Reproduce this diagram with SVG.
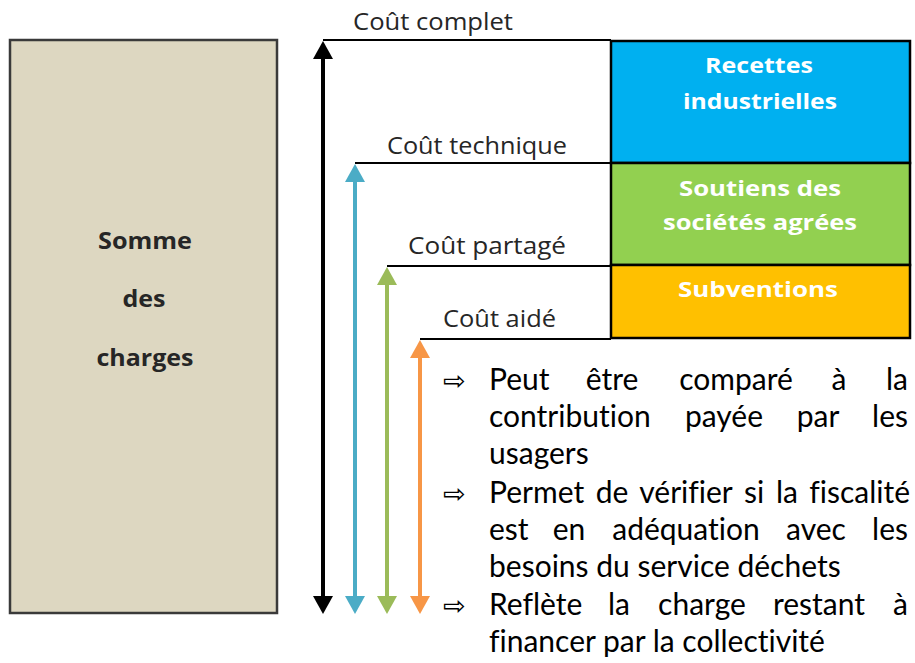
<svg xmlns="http://www.w3.org/2000/svg" width="915" height="663" viewBox="0 0 915 663">
<defs>
<style>
.lbl{font-family:"Open Sans","Liberation Sans",sans-serif;font-size:23px;fill:#262626}
.box{stroke:#000;stroke-width:2.5}
.bt{font-family:"Open Sans","Liberation Sans",sans-serif;font-size:22px;font-weight:bold;fill:#fff;text-anchor:middle}
.lt{font-family:"Open Sans","Liberation Sans",sans-serif;font-size:23px;font-weight:bold;fill:#262626;text-anchor:middle}
.tx{font-family:Lato,"Liberation Sans",sans-serif;font-size:30px;fill:#000;font-variant-ligatures:none}
.m{text-anchor:middle}
.e{text-anchor:end}
.bul{font-family:"DejaVu Sans",sans-serif;font-size:27px;fill:#000}
.hl{stroke:#000;stroke-width:2;fill:none}
.ar{stroke-width:4;fill:none}
</style>
<marker id="mk" viewBox="0 0 18 20" markerWidth="18" markerHeight="20" refX="1" refY="10" markerUnits="userSpaceOnUse" orient="auto-start-reverse"><path d="M0,0 L18,10 L0,20 z" fill="#000"/></marker>
<marker id="mb" viewBox="0 0 18 20" markerWidth="18" markerHeight="20" refX="1" refY="10" markerUnits="userSpaceOnUse" orient="auto-start-reverse"><path d="M0,0 L18,10 L0,20 z" fill="#4BACC6"/></marker>
<marker id="mg" viewBox="0 0 18 20" markerWidth="18" markerHeight="20" refX="1" refY="10" markerUnits="userSpaceOnUse" orient="auto-start-reverse"><path d="M0,0 L18,10 L0,20 z" fill="#9BBB59"/></marker>
<marker id="mo" viewBox="0 0 18 20" markerWidth="18" markerHeight="20" refX="1" refY="10" markerUnits="userSpaceOnUse" orient="auto-start-reverse"><path d="M0,0 L18,10 L0,20 z" fill="#F79646"/></marker>
</defs>
<rect width="915" height="663" fill="#fff"/>

<g id="somme">
<rect x="10" y="40" width="267" height="573" fill="#DDD7C1" stroke="#3a3a3a" stroke-width="2.5"/>
<text class="lt" x="145" y="249" textLength="94" lengthAdjust="spacingAndGlyphs">Somme</text>
<text class="lt" x="144" y="307" textLength="43" lengthAdjust="spacingAndGlyphs">des</text>
<text class="lt" x="145" y="366" textLength="97" lengthAdjust="spacingAndGlyphs">charges</text>
</g>

<g id="recettes">
<rect class="box" x="611" y="41" width="299" height="122" fill="#00B0F0"/>
<text class="bt" x="759" y="73" textLength="108" lengthAdjust="spacingAndGlyphs">Recettes</text>
<text class="bt" x="760" y="109" textLength="154" lengthAdjust="spacingAndGlyphs">industrielles</text>
</g>
<g id="soutiens">
<rect class="box" x="611" y="163" width="299" height="102" fill="#92D050"/>
<text class="bt" x="760" y="196" textLength="162" lengthAdjust="spacingAndGlyphs">Soutiens des</text>
<text class="bt" x="760" y="230" textLength="194" lengthAdjust="spacingAndGlyphs">sociétés agrées</text>
</g>
<g id="subventions">
<rect class="box" x="611" y="265" width="299" height="73" fill="#FFC000"/>
<text class="bt" x="758" y="297" textLength="160" lengthAdjust="spacingAndGlyphs">Subventions</text>
</g>

<g id="connectors">
<path class="hl" d="M323,40 H611"/>
<path class="hl" d="M355,163 H611"/>
<path class="hl" d="M387,266 H611"/>
<path class="hl" d="M420,339 H611"/>
<path class="ar" stroke="#000" d="M323,597 V58" marker-start="url(#mk)" marker-end="url(#mk)"/>
<path class="ar" stroke="#4BACC6" d="M355,597 V181" marker-start="url(#mb)" marker-end="url(#mb)"/>
<path class="ar" stroke="#9BBB59" d="M387,597 V284" marker-start="url(#mg)" marker-end="url(#mg)"/>
<path class="ar" stroke="#F79646" d="M420,597 V357" marker-start="url(#mo)" marker-end="url(#mo)"/>
</g>

<g id="labels">
<text class="lbl" x="353" y="30" textLength="160" lengthAdjust="spacingAndGlyphs">Coût complet</text>
<text class="lbl" x="387" y="154" textLength="180" lengthAdjust="spacingAndGlyphs">Coût technique</text>
<text class="lbl" x="408" y="254" textLength="158" lengthAdjust="spacingAndGlyphs">Coût partagé</text>
<text class="lbl" x="443" y="327" textLength="113" lengthAdjust="spacingAndGlyphs">Coût aidé</text>
</g>

<g id="notes">
<text class="bul" x="443" y="390">⇨</text>
<text class="bul" x="443" y="503">⇨</text>
<text class="bul" x="443" y="615">⇨</text>

<text class="tx" x="489" y="390">Peut</text>
<text class="tx m" x="612" y="390">être</text>
<text class="tx m" x="736" y="390">comparé</text>
<text class="tx m" x="839" y="390">à</text>
<text class="tx e" x="908" y="390">la</text>

<text class="tx" x="489" y="427">contribution</text>
<text class="tx m" x="724" y="427">payée</text>
<text class="tx m" x="818" y="427">par</text>
<text class="tx e" x="908" y="427">les</text>

<text class="tx" x="489" y="464">usagers</text>

<text class="tx" x="489" y="503">Permet</text>
<text class="tx m" x="612" y="503">de</text>
<text class="tx m" x="686" y="503">vérifier</text>
<text class="tx m" x="754" y="503">si</text>
<text class="tx m" x="787" y="503">la</text>
<text class="tx e" x="910" y="503">fiscalité</text>

<text class="tx" x="489" y="540">est</text>
<text class="tx m" x="569" y="540">en</text>
<text class="tx m" x="686" y="540">adéquation</text>
<text class="tx m" x="816" y="540">avec</text>
<text class="tx e" x="908" y="540">les</text>

<text class="tx" x="489" y="577">besoins du service déchets</text>

<text class="tx" x="489" y="615">Reflète</text>
<text class="tx m" x="619" y="615">la</text>
<text class="tx m" x="702" y="615">charge</text>
<text class="tx m" x="819" y="615">restant</text>
<text class="tx e" x="908" y="615">à</text>

<text class="tx" x="489" y="652">financer par la collectivité</text>
</g>
</svg>
